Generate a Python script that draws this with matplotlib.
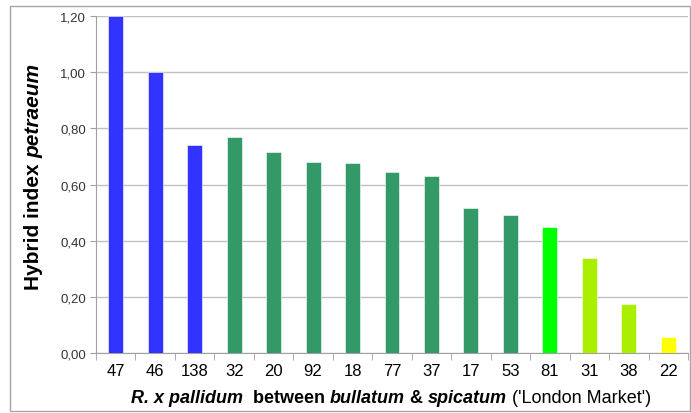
import matplotlib.pyplot as plt
from matplotlib.patches import Rectangle
from matplotlib.ticker import FixedLocator, FuncFormatter
import matplotlib.transforms as mtransforms

plt.rcParams['font.family'] = ['Liberation Sans', 'DejaVu Sans']

# data
labels = ["47", "46", "138", "32", "20", "92", "18", "77", "37", "17", "53", "81", "31", "38", "22"]
values = [1.20, 1.00, 0.74, 0.77, 0.715, 0.68, 0.677, 0.643, 0.629, 0.516, 0.491, 0.447, 0.338, 0.173, 0.056]
colors = ["#3333FF"] * 3 + ["#339966"] * 8 + ["#00FF00", "#AAEE00", "#AAEE00", "#FFFF00"]

fig = plt.figure(figsize=(6.91, 4.14), dpi=100)
ax = fig.add_axes([96 / 691, 1 - 354 / 414, (688 - 96) / 691, (354 - 17) / 414])

x = list(range(len(labels)))
ax.bar(x, values, width=0.38, color=colors, edgecolor="white", linewidth=0.4, zorder=3)

ax.set_xlim(-0.5, len(labels) - 0.5)
ax.set_ylim(0, 1.2)
ax.set_yticks([0, 0.2, 0.4, 0.6, 0.8, 1.0, 1.2])
ax.yaxis.set_major_formatter(FuncFormatter(lambda v, p: f"{v:.2f}".replace(".", ",")))
ax.grid(axis="y", color="#C0C0C0", linewidth=1.0, zorder=0)
ax.set_axisbelow(True)

# category labels without ticks, ticks between categories
ax.set_xticks(x)
ax.set_xticklabels(labels, fontsize=12)
ax.tick_params(axis="x", which="major", length=0, pad=7)
ax.xaxis.set_minor_locator(FixedLocator([i - 0.5 for i in range(len(labels) + 1)]))
ax.tick_params(axis="x", which="minor", length=5, color="#A0A0A0", direction="out")
ax.tick_params(axis="y", length=4, color="#A0A0A0", labelsize=9.5, pad=3, labelcolor="#333333")

for s in ["top", "right"]:
    ax.spines[s].set_visible(False)
ax.spines["left"].set_color("#A0A0A0")
ax.spines["bottom"].set_color("#A0A0A0")

# outer border of the chart area
fig.patches.append(Rectangle((10 / 691, 2 / 414), 680 / 691, 405 / 414, transform=fig.transFigure,
                             fill=False, edgecolor="#A6A6A6", linewidth=1.0))


def write_pieces(pieces, x0, y0, rotation=0, size=12):
    # place text pieces one after another, then centre the whole line
    fig.canvas.draw()
    r = fig.canvas.get_renderer()
    texts = []
    offset = 0.0
    for txt, weight, style in pieces:
        if rotation == 0:
            tr = fig.transFigure + mtransforms.ScaledTranslation(offset / 72, 0, fig.dpi_scale_trans)
            t = fig.text(x0, y0, txt, fontsize=size, fontweight=weight, fontstyle=style,
                         ha="left", va="center", transform=tr)
            w = t.get_window_extent(r).width
        else:
            tr = fig.transFigure + mtransforms.ScaledTranslation(0, offset / 72, fig.dpi_scale_trans)
            t = fig.text(x0, y0, txt, fontsize=size, fontweight=weight, fontstyle=style,
                         ha="left", va="baseline", rotation=90, transform=tr, rotation_mode="anchor")
            w = t.get_window_extent(r).height
        offset += w * 72 / fig.dpi
        texts.append(t)
    shift = -offset / 2
    for t in texts:
        if rotation == 0:
            t.set_transform(t.get_transform() + mtransforms.ScaledTranslation(shift / 72, 0, fig.dpi_scale_trans))
        else:
            t.set_transform(t.get_transform() + mtransforms.ScaledTranslation(0, shift / 72, fig.dpi_scale_trans))


write_pieces([("R. x pallidum", "bold", "italic"), ("  between ", "bold", "normal"),
              ("bullatum", "bold", "italic"), (" & ", "bold", "normal"),
              ("spicatum", "bold", "italic"), (" ('London Market')", "normal", "normal")],
             391 / 691, 1 - 399 / 414, size=13)

write_pieces([("Hybrid index ", "bold", "normal"), ("petraeum", "bold", "italic")],
             39 / 691, 1 - 177 / 414, rotation=90, size=15)

fig.savefig("out.png", dpi=100)
